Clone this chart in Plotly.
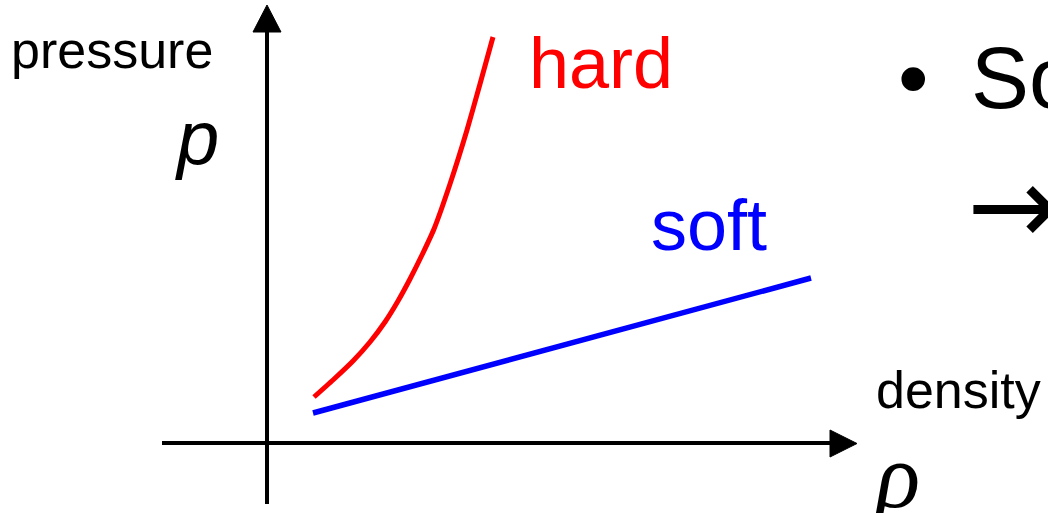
import plotly.graph_objects as go

# ---- data (schematic, in page-pixel units) ----
hard_x = [314, 333, 353, 370, 385, 398, 410, 422, 434, 450, 467, 480, 493]
hard_y = [397, 380, 361, 342, 322, 301, 279, 255, 229, 184, 130, 84, 37]
soft_x = [313, 811]
soft_y = [413, 278]

yaxis_x = [267, 267]
yaxis_y = [504, 30]
xaxis_x = [162, 832]
xaxis_y = [443, 443]
up_head_x = [253, 267, 281, 253]
up_head_y = [32, 5, 32, 32]
right_head_x = [830, 857, 830, 830]
right_head_y = [430, 443.5, 457, 430]

SANS = "Arial, Liberation Sans, sans-serif"
SERIF = "Times New Roman, Liberation Serif, serif"

fig = go.Figure()
fig.add_trace(go.Scatter(x=yaxis_x, y=yaxis_y, mode="lines", line=dict(color="black", width=4), hoverinfo="skip"))
fig.add_trace(go.Scatter(x=xaxis_x, y=xaxis_y, mode="lines", line=dict(color="black", width=4), hoverinfo="skip"))
fig.add_trace(go.Scatter(x=up_head_x, y=up_head_y, mode="lines", fill="toself", fillcolor="black",
                         line=dict(color="black", width=1), hoverinfo="skip"))
fig.add_trace(go.Scatter(x=right_head_x, y=right_head_y, mode="lines", fill="toself", fillcolor="black",
                         line=dict(color="black", width=1), hoverinfo="skip"))
fig.add_trace(go.Scatter(x=soft_x, y=soft_y, mode="lines", line=dict(color="#0000ff", width=5.5), hoverinfo="skip"))
fig.add_trace(go.Scatter(x=hard_x, y=hard_y, mode="lines",
                         line=dict(color="#ff0000", width=5, shape="spline", smoothing=0.6),
                         hoverinfo="skip"))

def txt(s, x, y, size, color="black", family=SANS):
    fig.add_annotation(x=x, y=y, text=s, showarrow=False, xanchor="left", yanchor="middle",
                       font=dict(family=family, size=size, color=color), xref="x", yref="y")

txt("pressure", 9, 50, 52)
txt("<i>p</i>", 173, 137, 76)
txt("hard", 527, 63, 72, "#ff0000")
txt("soft", 649, 225, 72, "#0000ff")
txt("density", 874, 390, 52)
txt("<i>ρ</i>", 871, 476, 92, family=SERIF)
txt("•", 896, 77, 87)
txt("So", 969, 77, 87)
txt("→", 965, 206, 110, family="DejaVu Sans")

fig.update_layout(
    width=1048, height=513, margin=dict(l=0, r=0, t=0, b=0),
    paper_bgcolor="white", plot_bgcolor="white", showlegend=False,
    xaxis=dict(range=[0, 1048], visible=False, fixedrange=True),
    yaxis=dict(range=[513, 0], visible=False, fixedrange=True),
)
fig.write_html("out.html", config={"displayModeBar": False},
               post_script="document.body.style.margin='0';document.body.style.overflow='hidden';")
